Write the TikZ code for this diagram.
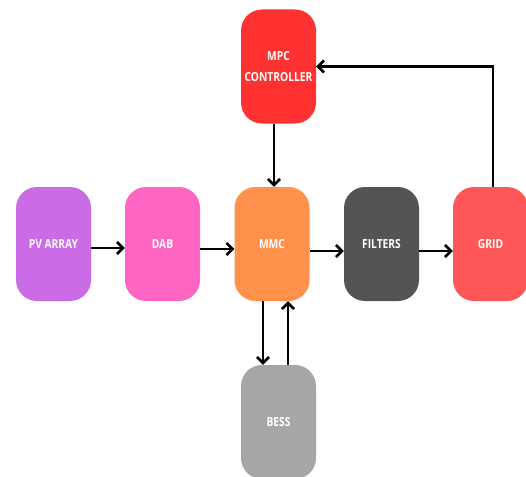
\documentclass[tikz,border=0pt]{standalone}
\usepackage{fontspec}
\setmainfont{Open Sans}[FakeStretch=0.82]
\usetikzlibrary{arrows.meta}
\definecolor{cmpc}{HTML}{FF3131}
\definecolor{cpv}{HTML}{CB6CE6}
\definecolor{cdab}{HTML}{FF66C4}
\definecolor{cmmc}{HTML}{FF914D}
\definecolor{cfil}{HTML}{545454}
\definecolor{cgrid}{HTML}{FF5757}
\definecolor{cbess}{HTML}{A6A6A6}
\tikzset{
  blk/.style={rounded corners=21pt, minimum width=75pt, minimum height=114pt, inner sep=0pt,
    text=white, font=\fontsize{12.5}{21}\selectfont\bfseries, align=center},
  arr/.style={line width=2.8pt, -{Straight Barb[length=6pt,width=12pt,line width=2.6pt]}}
}
\begin{document}
\begin{tikzpicture}[x=1pt,y=-1pt]
\useasboundingbox (0,0) rectangle (526,476);
\clip (0,0) rectangle (526,476);
\fill[white] (0,0) rectangle (526,476);
\node[blk, fill=cmpc] (mpc) at (278.5,66.5) {MPC\\CONTROLLER};
\node[blk, fill=cpv] (pv) at (53.5,244) {PV ARRAY};
\node[blk, fill=cdab] (dab) at (162.5,244) {DAB};
\node[blk, fill=cmmc] (mmc) at (272,244) {MMC};
\node[blk, fill=cfil] (fil) at (381.5,244) {FILTERS};
\node[blk, fill=cgrid] (grid) at (490.5,244) {GRID};
\node[blk, fill=cbess] (bess) at (278.5,422) {BESS};
\draw[arr] ([yshift=-4pt]pv.east) -- ([yshift=-4pt]dab.west);
\draw[arr] ([yshift=-5pt]dab.east) -- ([yshift=-5pt]mmc.west);
\draw[arr] ([yshift=-7pt]mmc.east) -- ([yshift=-7pt]fil.west);
\draw[arr] ([yshift=-7pt]fil.east) -- ([yshift=-7pt]grid.west);
\draw[arr] ([xshift=-4.5pt]mpc.south) -- ([xshift=2pt]mmc.north);
\draw[arr] ([xshift=2.5pt]grid.north) |- (mpc.east);
\draw[arr] ([xshift=-9pt]mmc.south) -- ([xshift=-15.5pt]bess.north);
\draw[arr] ([xshift=9.5pt]bess.north) -- ([xshift=16pt]mmc.south);
\end{tikzpicture}
\end{document}
